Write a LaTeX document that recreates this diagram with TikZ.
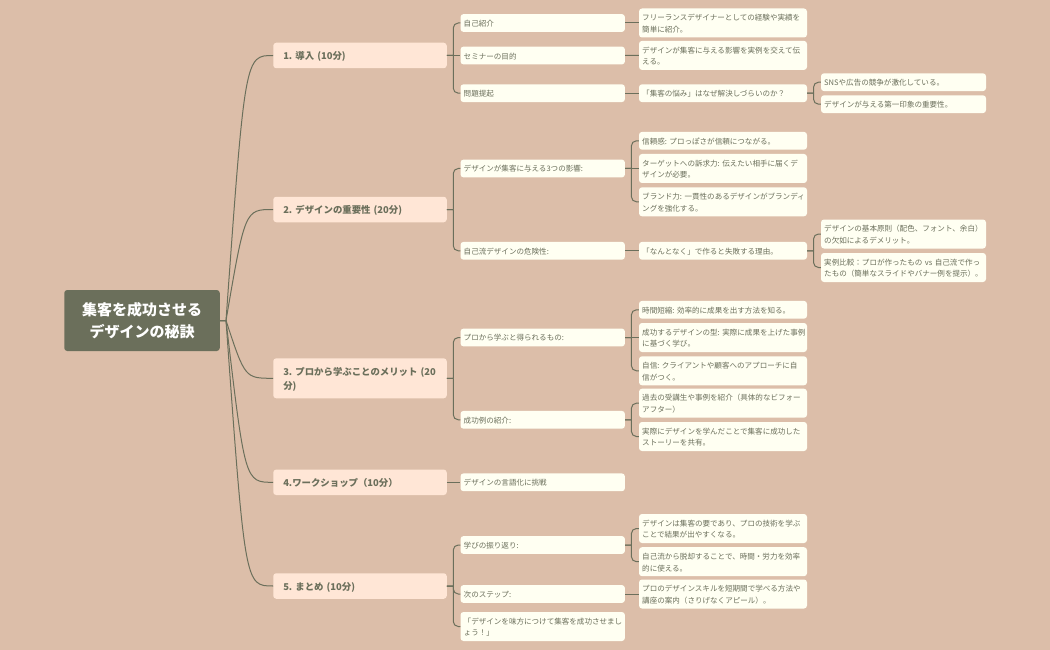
\documentclass[tikz,border=0pt]{standalone}
\usepackage{fontspec}
\setmainfont{Noto Sans CJK JP}
\usetikzlibrary{calc}
\frenchspacing
\definecolor{bgc}{HTML}{DCBEA9}
\definecolor{olive}{HTML}{6B6F5B}
\definecolor{peach}{HTML}{FFE6D6}
\definecolor{ivory}{HTML}{FFFFF2}
\tikzset{
  rootbox/.style={fill=olive,text=white,rounded corners=3,minimum width=155.5,minimum height=61,align=center,inner sep=0,font=\fontsize{15}{22}\selectfont\bfseries,execute at begin node={\rule{0pt}{14.6pt}}},
  onebox/.style={fill=peach,text=olive,rounded corners=3,text width=153.5,minimum height=25.5,align=left,inner xsep=10,inner ysep=0,font=\fontsize{9.4}{14.3}\selectfont\bfseries,execute at begin node={\rule{0pt}{10.3pt}}},
  leafbox/.style={fill=ivory,text=olive,rounded corners=3,align=left,inner xsep=3.2,inner ysep=0,minimum height=17.8,font=\fontsize{7.55}{11.7}\selectfont,execute at begin node={\rule{0pt}{7.6pt}}},
  twobox/.style={leafbox,text width=158},
  threebox/.style={leafbox,text width=161.6},
  fourbox/.style={leafbox,text width=158.6},
  tall/.style={minimum height=29},
  link/.style={draw=olive,line width=1},
}
\newcommand{\elbow}[2]{\draw[link] (#1.east) -- ++(6.3,0) ++(0,0) [rounded corners=5] |- (#2.west);}
\newcommand{\direct}[2]{\draw[link] (#1.east) -- (#2.west);}
\newcommand{\swoop}[1]{\draw[link] (root.east) -- (hub) .. controls (hubctl |- #1.west) and (hubctl |- #1.west) .. (#1.west);}
\begin{document}
\begin{tikzpicture}[x=1pt,y=-1pt]
\useasboundingbox (0,0) rectangle (1050,650);
\fill[bgc] (0,0) rectangle (1050,650);
\node[rootbox] (root) at (142,320.5) {集客を成功させる\\デザインの秘訣};
\coordinate (hub) at (226,320.5);
\coordinate (hubctl) at (245,320.5);
% level one
\node[onebox] (a) at (360,55.5) {1. 導入 (10分)};
\node[onebox] (b) at (360,209.5) {2. デザインの重要性 (20分)};
\node[onebox,minimum height=40] (c) at (360,378.3) {\mbox{3. プロから学ぶことのメリット (20}\\分)};
\node[onebox] (d) at (360,482.3) {4.ワークショップ（10分）};
\node[onebox] (e) at (360,586) {5. まとめ (10分)};
% level two
\node[twobox] (a1) at (542.7,23) {自己紹介};
\node[twobox] (a2) at (542.7,55.5) {セミナーの目的};
\node[twobox] (a3) at (542.7,93.2) {問題提起};
\node[twobox] (b1) at (542.7,168.5) {デザインが集客に与える3つの影響:};
\node[twobox] (b2) at (542.7,250.8) {自己流デザインの危険性:};
\node[twobox] (c1) at (542.7,337.5) {プロから学ぶと得られるもの:};
\node[twobox] (c2) at (542.7,419.8) {成功例の紹介:};
\node[twobox] (d1) at (542.7,482.3) {デザインの言語化に挑戦};
\node[twobox] (e1) at (542.7,545) {学びの振り返り:};
\node[twobox] (e2) at (542.7,594) {次のステップ:};
\node[twobox,tall] (e3) at (542.7,626.5) {「デザインを味方につけて集客を成功させまし\\ょう！」};
% level three
\node[threebox,tall] (a11) at (723,23) {フリーランスデザイナーとしての経験や実績を\\簡単に紹介。};
\node[threebox,tall] (a21) at (723,55.4) {デザインが集客に与える影響を実例を交えて伝\\える。};
\node[threebox] (a31) at (723,93.2) {「集客の悩み」はなぜ解決しづらいのか？};
\node[threebox] (b11) at (723,140.8) {信頼感: プロっぽさが信頼につながる。};
\node[threebox,tall] (b12) at (723,168.5) {\mbox{ターゲットへの訴求力: 伝えたい相手に届くデ}\\ザインが必要。};
\node[threebox,tall] (b13) at (723,201.8) {\mbox{ブランド力: 一貫性のあるデザインがブランディ}\\ングを強化する。};
\node[threebox] (b21) at (723,250.8) {「なんとなく」で作ると失敗する理由。};
\node[threebox] (c11) at (723,309.8) {時間短縮: 効率的に成果を出す方法を知る。};
\node[threebox,tall] (c12) at (723,337.5) {\mbox{成功するデザインの型: 実際に成果を上げた事例}\\に基づく学び。};
\node[threebox,tall] (c13) at (723,370.8) {\mbox{自信: クライアントや顧客へのアプローチに自}\\信がつく。};
\node[threebox,tall] (c21) at (723,403.2) {\mbox{過去の受講生や事例を紹介（具体的なビフォー}\\アフター）};
\node[threebox,tall] (c22) at (723,436.5) {\mbox{実際にデザインを学んだことで集客に成功した}\\ストーリーを共有。};
\node[threebox,tall] (e11) at (723,528.5) {デザインは集客の要であり、プロの技術を学ぶ\\ことで結果が出やすくなる。};
\node[threebox,tall] (e12) at (723,561.7) {自己流から脱却することで、時間・労力を効率\\的に使える。};
\node[threebox,tall] (e21) at (723,594) {プロのデザインスキルを短期間で学べる方法や\\講座の案内（さりげなくアピール）。};
% level four
\node[fourbox] (a311) at (903.5,82.2) {SNSや広告の競争が激化している。};
\node[fourbox] (a312) at (903.5,104.2) {デザインが与える第一印象の重要性。};
\node[fourbox,tall] (b211) at (903.5,234) {\mbox{デザインの基本原則（配色、フォント、余白）}\\の欠如によるデメリット。};
\node[fourbox,tall] (b212) at (903.5,267.5) {\mbox{実例比較：プロが作ったもの vs 自己流で作っ}\\たもの（簡単なスライドやバナー例を提示）。};
% connectors
\swoop{a}\swoop{b}\swoop{c}\swoop{d}\swoop{e}
\elbow{a}{a1}\direct{a}{a2}\elbow{a}{a3}
\elbow{b}{b1}\elbow{b}{b2}
\elbow{c}{c1}\elbow{c}{c2}
\direct{d}{d1}
\elbow{e}{e1}\elbow{e}{e2}\elbow{e}{e3}
\direct{a1}{a11}\direct{a2}{a21}\direct{a3}{a31}
\elbow{b1}{b11}\direct{b1}{b12}\elbow{b1}{b13}
\direct{b2}{b21}
\elbow{c1}{c11}\direct{c1}{c12}\elbow{c1}{c13}
\elbow{c2}{c21}\elbow{c2}{c22}
\elbow{e1}{e11}\elbow{e1}{e12}
\direct{e2}{e21}
\elbow{a31}{a311}\elbow{a31}{a312}
\elbow{b21}{b211}\elbow{b21}{b212}
\end{tikzpicture}
\end{document}
